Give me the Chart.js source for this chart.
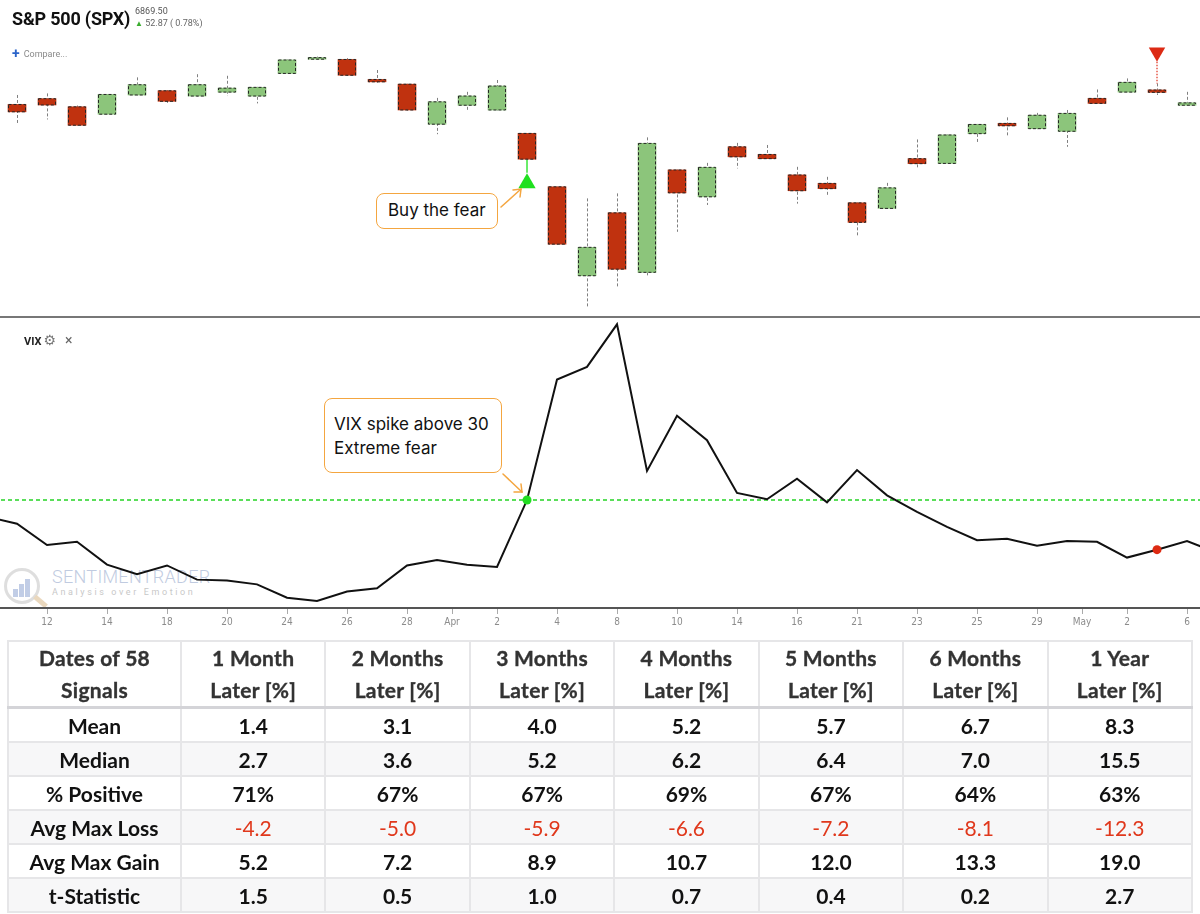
<!DOCTYPE html>
<html>
<head>
<meta charset="utf-8">
<title>S&amp;P 500 (SPX) - VIX spike signal</title>
<script src="https://cdn.jsdelivr.net/npm/chart.js@4.4.1/dist/chart.umd.min.js"></script>
<style>
  body { margin: 0; background: #fff; font-family: Roboto, "Noto Sans", sans-serif; }
  #page { position: relative; width: 1200px; height: 914px; overflow: hidden; }
  .abs { position: absolute; white-space: nowrap; }
  #priceCanvas { position: absolute; left: 0; top: 0; }
  #vixCanvas { position: absolute; left: 0; top: 318px; }
  #title { left: 12px; top: 9px; font: 700 18px/20px Roboto; color: #111; letter-spacing: -0.2px; }
  #last { left: 135px; top: 6px; font: 400 9px/10px Roboto; color: #555; }
  #change { left: 135px; top: 18px; font: 400 9px/10px Roboto; color: #666; }
  #change b { color: #3aad2e; font-size: 8px; }
  #compare { left: 12px; top: 47px; font: 400 9px/12px Roboto; color: #8a8a8a; }
  #compare b { color: #2b64c9; font-size: 14px; font-weight: 700; vertical-align: -1px; margin-right: 4px; }
  #sep { left: 0; top: 316px; width: 1200px; height: 2px; background: #777; }
  #vixLabel { left: 24px; top: 333px; font: 700 11px/14px Roboto; color: #222; }
  #vixLabel span { font-weight: 400; color: #777; margin-left: 2px; font-size: 14px; font-family: "DejaVu Sans"; }
  #vixLabel i { font-style: normal; font-weight: 400; color: #666; margin-left: 9px; font-size: 14px; }
  .note { position: absolute; background: #fff; border: 1.5px solid #f4a640; border-radius: 8px;
          box-sizing: border-box; font: 400 17px Inter, "Noto Sans", sans-serif; color: #111; }
  #buyNote { left: 376px; top: 193px; width: 122px; height: 36px; padding-left: 11px; line-height: 33px; }
  #vixNote { left: 324px; top: 398px; width: 178px; height: 75px; padding: 13px 0 0 9px; line-height: 24px; }
  #wm { left: 4px; top: 566px; opacity: 0.55; }
  #wmRing { left: 0; top: 2px; width: 30px; height: 30px; border: 3px solid #c4c4c4; border-radius: 50%; }
  #wmHandle { left: 29px; top: 33px; width: 15px; height: 5px; background: #d9b98a; transform: rotate(40deg); }
  .wmBar { bottom: 4px; width: 5px; background: #8fa6d2; }
  #wmName { left: 48px; top: 1px; font: 300 18px/20px Roboto; color: #8ea2c8; letter-spacing: 0.3px; }
  #wmTag { left: 48px; top: 21px; font: 400 9px/10px Roboto; color: #9a9a9a; letter-spacing: 2.6px; }
  #stats { position: absolute; left: 7px; top: 640px; width: 1186px; border-collapse: collapse;
           table-layout: fixed; font-family: Lato, "Open Sans", sans-serif; }
  #stats th, #stats td { border: 2px solid #e6e6e8; text-align: center; padding: 0; }
  #stats th { height: 64px; font-size: 21px; font-weight: 700; line-height: 32px; color: #333;
              background: #fff; letter-spacing: 0.3px; -webkit-text-stroke: 0.35px #333; }
  #stats thead tr { border-bottom: 3px solid #d4d4d8; }
  #stats td { height: 32px; font-size: 21px; font-weight: 700; color: #111; }
  #stats tbody tr:nth-child(even) td { background: #f7f7f8; }
  #stats td.neg { color: #e0381c; font-weight: 400; }
</style>
</head>
<body>
<div id="page">
  <canvas id="priceCanvas" width="1200" height="316"></canvas>
  <div class="abs" id="title">S&amp;P 500 (SPX)</div>
  <div class="abs" id="last">6869.50</div>
  <div class="abs" id="change"><b>&#9650;</b> 52.87 ( 0.78%)</div>
  <div class="abs" id="compare"><b>+</b>Compare...</div>
  <div class="note" id="buyNote">Buy the fear</div>
  <div class="abs" id="sep"></div>

  <div class="abs" id="wm">
    <div class="abs" id="wmRing">
      <div class="abs wmBar" style="left:6px;height:8px"></div>
      <div class="abs wmBar" style="left:12px;height:13px"></div>
      <div class="abs wmBar" style="left:18px;height:18px"></div>
    </div>
    <div class="abs" id="wmHandle"></div>
    <div class="abs" id="wmName">SENTIMENTRADER</div>
    <div class="abs" id="wmTag">Analysis over Emotion</div>
  </div>
  <canvas id="vixCanvas" width="1200" height="314"></canvas>
  <div class="abs" id="vixLabel">VIX<span>&#9881;</span><i>&#215;</i></div>
  <div class="note" id="vixNote">VIX spike above 30<br>Extreme fear</div>

  <svg class="abs" style="left:0;top:0" width="1200" height="914">
    <g stroke="#f4a640" stroke-width="1.5" fill="none" stroke-linecap="round">
      <path d="M501 207 L521 189"/>
      <path d="M513 190 L521 189 L520 197"/>
      <path d="M503 474 L522 492"/>
      <path d="M521 484 L522 492 L514 492"/>
    </g>
  </svg>

  <table id="stats"></table>
</div>

<script>
// trading sessions shown (index 0 = Mar 11)
const sessions = ['Mar 11', 'Mar 12', 'Mar 13', 'Mar 14', 'Mar 17', 'Mar 18', 'Mar 19', 'Mar 20', 'Mar 21', 'Mar 24',
  'Mar 25', 'Mar 26', 'Mar 27', 'Mar 28', 'Mar 31', 'Apr 1', 'Apr 2', 'Apr 3', 'Apr 4', 'Apr 7',
  'Apr 8', 'Apr 9', 'Apr 10', 'Apr 11', 'Apr 14', 'Apr 15', 'Apr 16', 'Apr 17', 'Apr 21', 'Apr 22',
  'Apr 23', 'Apr 24', 'Apr 25', 'Apr 28', 'Apr 29', 'Apr 30', 'May 1', 'May 2', 'May 5', 'May 6'];

// SPX daily candles
const opens  = [5610, 5632, 5601, 5573, 5646, 5662, 5642, 5657, 5642, 5728, 5782, 5781, 5705, 5687, 5535, 5607, 5589, 5500, 5297, 4959,
                5198, 4972, 5361, 5259, 5449, 5420, 5342, 5310, 5236, 5215, 5404, 5386, 5499, 5538, 5518, 5508, 5633, 5657, 5665, 5607];
const highs  = [5646, 5652, 5606, 5649, 5713, 5665, 5725, 5719, 5677, 5781, 5792, 5786, 5741, 5689, 5635, 5658, 5703, 5501, 5298, 5253,
                5272, 5485, 5363, 5388, 5464, 5456, 5373, 5335, 5238, 5312, 5477, 5496, 5536, 5561, 5578, 5589, 5667, 5709, 5690, 5658];
const lows   = [5538, 5553, 5528, 5572, 5644, 5616, 5640, 5642, 5614, 5726, 5779, 5719, 5693, 5587, 5497, 5582, 5587, 5400, 5078, 4839,
                4917, 4953, 5126, 5228, 5367, 5402, 5233, 5262, 5105, 5213, 5371, 5384, 5464, 5485, 5516, 5449, 5612, 5655, 5646, 5605];
const closes = [5582, 5608, 5531, 5648, 5685, 5622, 5685, 5672, 5675, 5779, 5788, 5721, 5696, 5589, 5620, 5642, 5680, 5402, 5079, 5067,
                4984, 5462, 5274, 5371, 5411, 5404, 5282, 5290, 5162, 5293, 5385, 5494, 5534, 5529, 5569, 5576, 5614, 5694, 5656, 5616];

// VIX close, one session before and after the window (Mar 10 .. May 7)
const vixStart = -1;
const vixValues = [27.9, 27.0, 24.3, 24.7, 21.8, 20.6, 21.7, 19.9, 19.8, 19.3, 17.6, 17.2, 18.4, 18.8, 21.7, 22.4, 21.8, 21.5,
                   30.0, 45.3, 46.9, 52.3, 33.7, 40.7, 37.6, 30.9, 30.1, 32.7, 29.7, 33.8, 30.6, 28.5, 26.6, 24.9, 25.1,
                   24.2, 24.8, 24.7, 22.7, 23.7, 24.8, 23.3];
const vixThreshold = 30;

// signals
const buyIdx = 17;        // Apr 3
const sellIdx = 38;       // May 5
const buyMarker = 5311;   // green triangle under the candle
const buyStem = 5350;
const sellMarker = 5808;  // red triangle over the candle
const sellStem = 5772;

// x axis labels
const tickAt     = [1, 3, 5, 7, 9, 11, 13, 14.5, 16, 18, 20, 22, 24, 26, 28, 30, 32, 34, 35.5, 37, 39];
const tickLabels = ['12', '14', '18', '20', '24', '26', '28', 'Apr', '2', '4', '8', '10', '14', '16', '21', '23', '25', '29', 'May', '2', '6'];

// forward returns table
const signalCount = 58;
const horizons = ['1 Month', '2 Months', '3 Months', '4 Months', '5 Months', '6 Months', '1 Year'];
const meanRow     = [1.4, 3.1, 4.0, 5.2, 5.7, 6.7, 8.3];
const medianRow   = [2.7, 3.6, 5.2, 6.2, 6.4, 7.0, 15.5];
const positiveRow = [71, 67, 67, 69, 67, 64, 63];
const maxLossRow  = [-4.2, -5.0, -5.9, -6.6, -7.2, -8.1, -12.3];
const maxGainRow  = [5.2, 7.2, 8.9, 10.7, 12.0, 13.3, 19.0];
const tStatRow    = [1.5, 0.5, 1.0, 0.7, 0.4, 0.2, 2.7];

const X_MIN = -0.567, X_MAX = 39.433;
const UP = '#8cc57b', DOWN = '#c0320f';

// dashed wicks behind the bodies, dashed outline around the bodies
const candlePlugin = {
  id: 'candles',
  beforeDatasetsDraw(chart) {
    const ctx = chart.ctx;
    ctx.save();
    ctx.strokeStyle = '#808080';
    ctx.lineWidth = 1;
    ctx.setLineDash([3, 2]);
    chart.getDatasetMeta(0).data.forEach(el => {
      const x = Math.round(el.x) + 0.5;
      ctx.beginPath();
      ctx.moveTo(x, el.y);
      ctx.lineTo(x, el.base);
      ctx.stroke();
    });
    ctx.restore();
  },
  afterDatasetsDraw(chart) {
    const ctx = chart.ctx;
    ctx.save();
    ctx.strokeStyle = '#262626';
    ctx.lineWidth = 1;
    ctx.setLineDash([3, 2]);
    chart.getDatasetMeta(1).data.forEach(el => {
      const top = Math.min(el.y, el.base);
      const h = Math.max(Math.abs(el.base - el.y), 1.5);
      ctx.strokeRect(Math.round(el.x - el.width / 2) + 0.5, top, Math.round(el.width) - 1, h);
    });
    ctx.restore();
  }
};

new Chart(document.getElementById('priceCanvas'), {
  type: 'bar',
  data: {
    datasets: [
      {
        label: 'wicks',
        data: sessions.map((d, i) => ({ x: i, y: [lows[i], highs[i]] })),
        backgroundColor: 'rgba(0,0,0,0)',
        barThickness: 1,
        grouped: false,
        order: 3
      },
      {
        label: 'SPX',
        data: sessions.map((d, i) => ({ x: i, y: [opens[i], closes[i]] })),
        backgroundColor: sessions.map((d, i) => closes[i] >= opens[i] ? UP : DOWN),
        borderWidth: 0,
        barThickness: 18,
        grouped: false,
        order: 2
      },
      {
        type: 'line',
        data: [{ x: buyIdx, y: lows[buyIdx] }, { x: buyIdx, y: buyStem }],
        borderColor: '#39e639',
        borderWidth: 1.5,
        pointRadius: 0,
        order: 1
      },
      {
        type: 'line',
        data: [{ x: sellIdx, y: sellStem }, { x: sellIdx, y: highs[sellIdx] }],
        borderColor: '#e0301e',
        borderWidth: 1.2,
        borderDash: [1.5, 1.5],
        pointRadius: 0,
        order: 1
      },
      {
        type: 'line',
        data: [{ x: buyIdx, y: buyMarker }],
        showLine: false,
        pointStyle: 'triangle',
        pointRadius: 10,
        backgroundColor: '#1fe01f',
        borderWidth: 0,
        order: 0
      },
      {
        type: 'line',
        data: [{ x: sellIdx, y: sellMarker }],
        showLine: false,
        pointStyle: 'triangle',
        pointRotation: 180,
        pointRadius: 9.5,
        backgroundColor: '#dc2a14',
        borderWidth: 0,
        order: 0
      }
    ]
  },
  options: {
    responsive: false,
    animation: false,
    layout: { padding: 0, autoPadding: false },
    plugins: { legend: { display: false }, tooltip: { enabled: false } },
    scales: {
      x: { type: 'linear', min: X_MIN, max: X_MAX, offset: false, display: false },
      y: { min: 4806, max: 6007, display: false }
    }
  },
  plugins: [candlePlugin]
});

new Chart(document.getElementById('vixCanvas'), {
  type: 'line',
  data: {
    datasets: [
      {
        label: 'VIX',
        data: vixValues.map((v, k) => ({ x: vixStart + k, y: v })),
        borderColor: '#111',
        borderWidth: 2,
        pointRadius: 0,
        tension: 0,
        order: 1
      },
      {
        label: 'threshold',
        data: [{ x: vixStart, y: vixThreshold }, { x: vixStart + vixValues.length - 1, y: vixThreshold }],
        borderColor: '#5ade5a',
        borderWidth: 2,
        borderDash: [4, 3],
        pointRadius: 0,
        order: 2
      },
      {
        data: [{ x: buyIdx, y: vixValues[buyIdx - vixStart] }],
        showLine: false,
        pointRadius: 4.5,
        backgroundColor: '#22dd22',
        borderWidth: 0,
        order: 0
      },
      {
        data: [{ x: sellIdx, y: vixValues[sellIdx - vixStart] }],
        showLine: false,
        pointRadius: 4.5,
        backgroundColor: '#dd2a12',
        borderWidth: 0,
        order: 0
      }
    ]
  },
  options: {
    responsive: false,
    animation: false,
    layout: { padding: 0, autoPadding: false },
    plugins: { legend: { display: false }, tooltip: { enabled: false } },
    scales: {
      x: {
        type: 'linear',
        min: X_MIN,
        max: X_MAX,
        afterBuildTicks: axis => { axis.ticks = tickAt.map(v => ({ value: v })); },
        afterFit: axis => { axis.height = 24; },
        ticks: {
          autoSkip: false,
          maxRotation: 0,
          padding: 2,
          color: '#8c8c8c',
          font: { family: "'Liberation Sans Narrow', 'DejaVu Sans Condensed', sans-serif", size: 10 },
          callback: (value, index) => tickLabels[index]
        },
        grid: { drawOnChartArea: false, drawTicks: true, tickLength: 6, color: '#aaa' },
        border: { display: true, color: '#555', width: 2 }
      },
      y: { min: 16.3, max: 53.1, display: false }
    }
  }
});

// statistics table
const fmt = v => v.toFixed(1);
const tableRows = [
  ['Mean', meanRow.map(fmt)],
  ['Median', medianRow.map(fmt)],
  ['% Positive', positiveRow.map(v => v + '%')],
  ['Avg Max Loss', maxLossRow.map(fmt), 'neg'],
  ['Avg Max Gain', maxGainRow.map(fmt)],
  ['t-Statistic', tStatRow.map(fmt)]
];
let html = '<colgroup><col style="width:173px">' + horizons.map(() => '<col>').join('') + '</colgroup>';
html += '<thead><tr><th>Dates of ' + signalCount + '<br>Signals</th>' +
  horizons.map(h => '<th>' + h + '<br>Later [%]</th>').join('') + '</tr></thead><tbody>';
tableRows.forEach(([name, vals, cls]) => {
  html += '<tr><td>' + name + '</td>' +
    vals.map(v => '<td' + (cls ? ' class="' + cls + '"' : '') + '>' + v + '</td>').join('') + '</tr>';
});
html += '</tbody>';
document.getElementById('stats').innerHTML = html;
</script>
</body>
</html>
